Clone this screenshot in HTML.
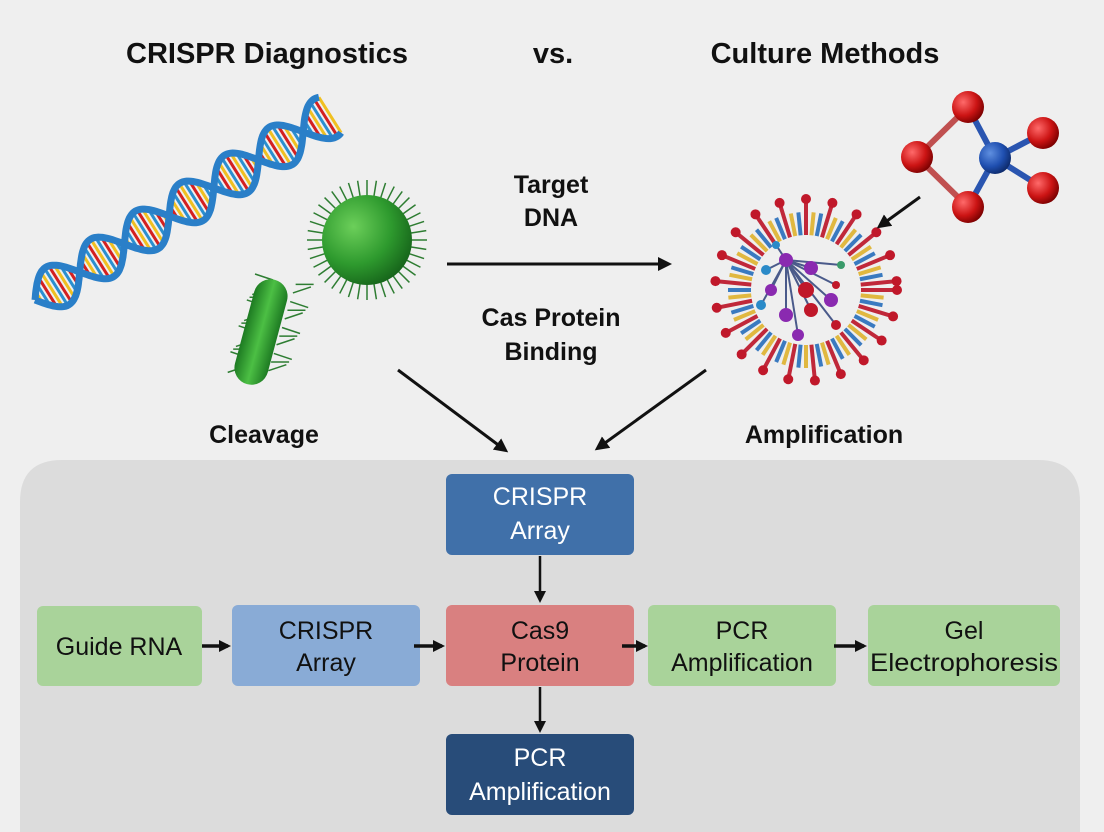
<!DOCTYPE html>
<html><head><meta charset="utf-8"><style>
html,body{margin:0;padding:0;width:1104px;height:832px;overflow:hidden;background:#efefef;}
svg{display:block;font-family:"Liberation Sans",sans-serif;}
</style></head><body>
<svg id="s" width="1104" height="832" viewBox="0 0 1104 832" xmlns="http://www.w3.org/2000/svg" overflow="hidden">
<defs>
<radialGradient id="gr" cx="0.35" cy="0.35" r="0.7"><stop offset="0" stop-color="#6ccf5a"/><stop offset="0.6" stop-color="#2e9a2e"/><stop offset="1" stop-color="#17661b"/></radialGradient>
<linearGradient id="rod" x1="0" y1="0" x2="1" y2="0"><stop offset="0" stop-color="#1d7a22"/><stop offset="0.5" stop-color="#4cbf44"/><stop offset="1" stop-color="#1d7a22"/></linearGradient>
<radialGradient id="rb" cx="0.35" cy="0.35" r="0.7"><stop offset="0" stop-color="#ff6a6a"/><stop offset="0.6" stop-color="#cc1414"/><stop offset="1" stop-color="#7a0000"/></radialGradient>
<radialGradient id="bb" cx="0.35" cy="0.35" r="0.7"><stop offset="0" stop-color="#5f8fe0"/><stop offset="0.6" stop-color="#1f4fb0"/><stop offset="1" stop-color="#0d2a6a"/></radialGradient>
<marker id="ah" markerWidth="12" markerHeight="12" refX="9" refY="6" orient="auto" markerUnits="userSpaceOnUse"><path d="M0,0 L12,6 L0,12 z" fill="#111"/></marker>
<marker id="ah2" markerWidth="14" markerHeight="14" refX="10" refY="7" orient="auto" markerUnits="userSpaceOnUse"><path d="M0,0 L14,7 L0,14 z" fill="#111"/></marker>
</defs>
<rect width="1104" height="832" fill="#efefef"/>
<g font-weight="bold" font-size="29" fill="#111" text-anchor="middle">
<text x="267" y="63">CRISPR Diagnostics</text>
<text x="553" y="63">vs.</text>
<text x="825" y="63">Culture Methods</text>
</g>
<g font-weight="bold" font-size="25" fill="#111" text-anchor="middle">
<text x="551" y="193">Target</text><text x="551" y="226">DNA</text>
<text x="551" y="326">Cas Protein</text><text x="551" y="360">Binding</text>
<text x="264" y="443">Cleavage</text>
<text x="824" y="443">Amplification</text>
</g>
<g id="dna"></g>
<g id="bact"></g>
<rect x="244" y="278" width="34" height="108" rx="17" fill="url(#rod)" transform="rotate(15 261 332)"/>
<circle cx="367" cy="240" r="45" fill="url(#gr)"/>
<g id="virus"></g>
<g stroke-width="6">
<line x1="968" y1="107" x2="917" y2="157" stroke="#c05050"/>
<line x1="917" y1="157" x2="968" y2="207" stroke="#c05050"/>
<line x1="968" y1="107" x2="995" y2="158" stroke="#2a55b0"/>
<line x1="968" y1="207" x2="995" y2="158" stroke="#2a55b0"/>
<line x1="1043" y1="133" x2="995" y2="158" stroke="#2a55b0"/>
<line x1="1043" y1="188" x2="995" y2="158" stroke="#2a55b0"/>
</g>
<circle cx="968" cy="107" r="16" fill="url(#rb)"/>
<circle cx="917" cy="157" r="16" fill="url(#rb)"/>
<circle cx="968" cy="207" r="16" fill="url(#rb)"/>
<circle cx="1043" cy="133" r="16" fill="url(#rb)"/>
<circle cx="1043" cy="188" r="16" fill="url(#rb)"/>
<circle cx="995" cy="158" r="16" fill="url(#bb)"/>
<g stroke="#111" stroke-width="3" fill="none">
<line x1="447" y1="264" x2="668" y2="264" marker-end="url(#ah2)"/>
<line x1="398" y1="370" x2="505" y2="450" marker-end="url(#ah2)"/>
<line x1="706" y1="370" x2="598" y2="448" marker-end="url(#ah2)"/>
<line x1="920" y1="197" x2="880" y2="226" marker-end="url(#ah2)"/>
</g>
<path d="M20,832 L20,502 Q20,460 62,460 L1038,460 Q1080,460 1080,502 L1080,832 Z" fill="#dcdcdc"/>
<g font-size="25" text-anchor="middle">
<rect x="446" y="474" width="188" height="81" rx="6" fill="#4070a9"/>
<text x="540" y="505" fill="#fff">CRISPR</text><text x="540" y="539" fill="#fff">Array</text>
<rect x="37" y="606" width="165" height="80" rx="6" fill="#a9d39a"/>
<text x="119" y="655" fill="#111">Guide RNA</text>
<rect x="232" y="605" width="188" height="81" rx="6" fill="#89abd6"/>
<text x="326" y="639" fill="#111">CRISPR</text><text x="326" y="671" fill="#111">Array</text>
<rect x="446" y="605" width="188" height="81" rx="6" fill="#d98080"/>
<text x="540" y="639" fill="#111">Cas9</text><text x="540" y="671" fill="#111">Protein</text>
<rect x="648" y="605" width="188" height="81" rx="6" fill="#a9d39a"/>
<text x="742" y="639" fill="#111">PCR</text><text x="742" y="671" fill="#111">Amplification</text>
<rect x="868" y="605" width="192" height="81" rx="6" fill="#a9d39a"/>
<text x="964" y="639" fill="#111">Gel</text><text x="964" y="671" fill="#111" textLength="188" lengthAdjust="spacingAndGlyphs">Electrophoresis</text>
<rect x="446" y="734" width="188" height="81" rx="6" fill="#284c79"/>
<text x="540" y="766" fill="#fff">PCR</text><text x="540" y="800" fill="#fff">Amplification</text>
</g>
<g stroke="#111" stroke-width="3.5">
<line x1="540" y1="556" x2="540" y2="600" stroke-width="2.5" marker-end="url(#ah)"/>
<line x1="540" y1="687" x2="540" y2="730" stroke-width="2.5" marker-end="url(#ah)"/>
<line x1="202" y1="646" x2="228" y2="646" marker-end="url(#ah)"/>
<line x1="414" y1="646" x2="442" y2="646" marker-end="url(#ah)"/>
<line x1="622" y1="646" x2="645" y2="646" marker-end="url(#ah)"/>
<line x1="834" y1="646" x2="864" y2="646" marker-end="url(#ah)"/>
</g>
</svg>
<script>
var NS="http://www.w3.org/2000/svg";
function el(p,t,a){var e=document.createElementNS(NS,t);for(var k in a)e.setAttribute(k,a[k]);p.appendChild(e);return e;}
var g=document.getElementById('dna');
var x0=35,y0=300,x1=330,y1=115,L=Math.hypot(x1-x0,y1-y0),ux=(x1-x0)/L,uy=(y1-y0)/L,nx=-uy,ny=ux;
function pt(t,ph){var s=t*L,a=Math.sin(t*Math.PI*2*3.3+ph)*22;return [x0+ux*s+nx*a,y0+uy*s+ny*a];}
var cols=['#d42020','#f0c020','#2a8fd0'];
for(var i=0;i<=70;i++){var t=i/70,p=pt(t,0),q=pt(t,Math.PI);el(g,'line',{x1:p[0],y1:p[1],x2:q[0],y2:q[1],stroke:cols[i%3],'stroke-width':3});}
['0','3.14159'].forEach(function(ph){var d='';for(var i=0;i<=200;i++){var p=pt(i/200,+ph);d+=(i?'L':'M')+p[0].toFixed(1)+','+p[1].toFixed(1);}el(g,'path',{d:d,fill:'none',stroke:'#2a7fc8','stroke-width':7});});
var b=document.getElementById('bact');
for(var i=0;i<40;i++){var a=i/40*Math.PI*2;el(b,'line',{x1:367+Math.cos(a)*44,y1:240+Math.sin(a)*44,x2:367+Math.cos(a)*60,y2:240+Math.sin(a)*60,stroke:'#2e7d32','stroke-width':1.5});}
for(var i=0;i<22;i++){var tt=i/22,a=i%2?1:-1;var cx=285-30*tt,cy=280+95*tt;el(b,'line',{x1:cx+a*12,y1:cy,x2:cx+a*30,y2:cy+(i%3-1)*6,stroke:'#2e7d32','stroke-width':1.5});}
var v=document.getElementById('virus'),vx=806,vy=290,vc=['#c0283a','#e0b840','#3a7ac0'];
for(var i=0;i<64;i++){var a=i/64*Math.PI*2,r2=(i%3==0)?88:78;el(v,'line',{x1:vx+Math.cos(a)*55,y1:vy+Math.sin(a)*55,x2:vx+Math.cos(a)*r2,y2:vy+Math.sin(a)*r2,stroke:vc[i%3],'stroke-width':4});if(i%3==0)el(v,'circle',{cx:vx+Math.cos(a)*(r2+3),cy:vy+Math.sin(a)*(r2+3),r:5,fill:'#c0182a'});}
var nodes=[[-20,-30,'#8a2ab0',7],[5,-22,'#8a2ab0',7],[-35,0,'#8a2ab0',6],[0,0,'#c0182a',8],[25,10,'#8a2ab0',7],[-20,25,'#8a2ab0',7],[5,20,'#c0182a',7],[-8,45,'#8a2ab0',6],[-40,-20,'#2a8ac8',5],[35,-25,'#3a9a6a',4],[30,-5,'#c0182a',4],[-45,15,'#2a8ac8',5],[30,35,'#c0182a',5],[-30,-45,'#2a8ac8',4]];
for(var i=1;i<nodes.length;i++){var p=nodes[i],q=nodes[(i*5)%i];el(v,'line',{x1:vx+p[0],y1:vy+p[1],x2:vx+q[0],y2:vy+q[1],stroke:'#4a5a8a','stroke-width':2});}
nodes.forEach(function(n){el(v,'circle',{cx:vx+n[0],cy:vy+n[1],r:n[3],fill:n[2]});});
</script>
</body></html>
